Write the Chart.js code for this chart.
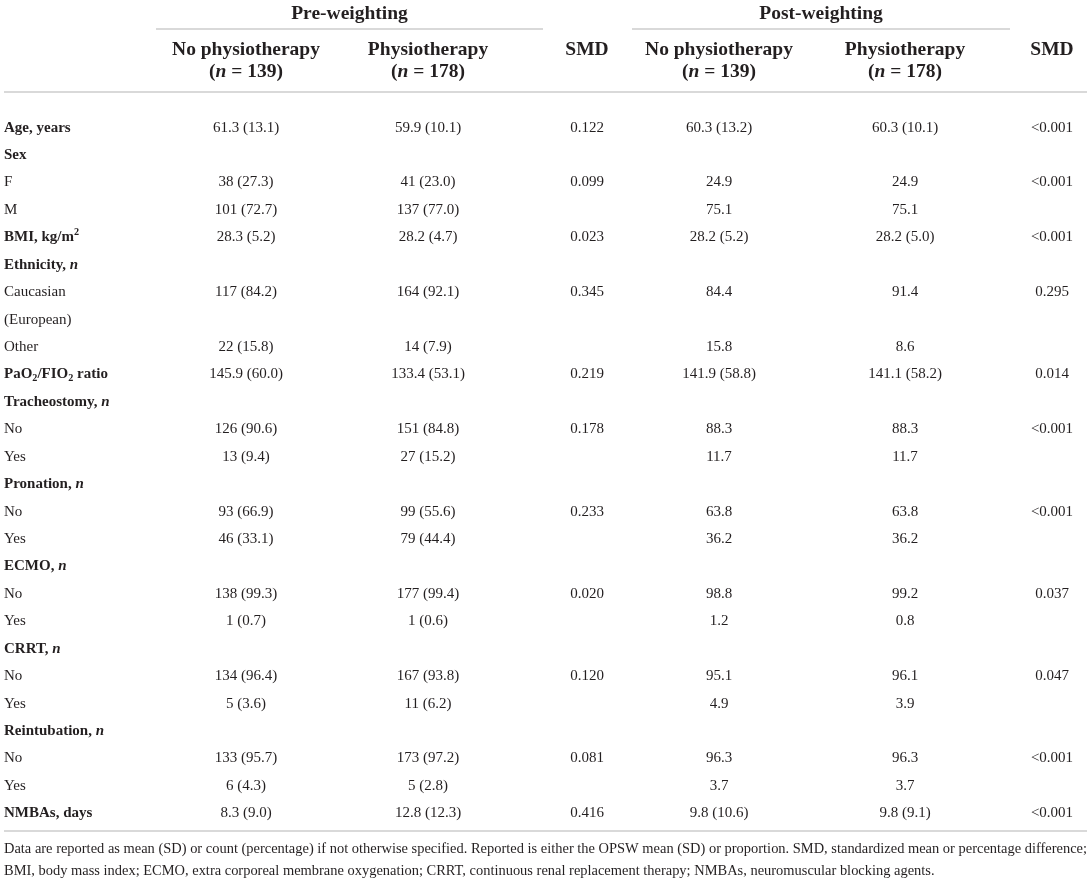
<!DOCTYPE html>
<html>
<head>
<meta charset="utf-8">
<title>Baseline characteristics</title>
<script src="https://cdn.jsdelivr.net/npm/chart.js@4.4.0/dist/chart.umd.min.js"></script>
<style>
  html, body { margin: 0; padding: 0; background: #fff; }
  #wrap { width: 1091px; height: 889px; }
</style>
</head>
<body>
<div id="wrap"><canvas id="tableChart" width="1091" height="889"></canvas></div>
<script>
// table content
const groupTitles = ['Pre-weighting', 'Post-weighting'];
const columnTitles = ['No physiotherapy', 'Physiotherapy', 'SMD', 'No physiotherapy', 'Physiotherapy', 'SMD'];
const columnCounts = ['(*n* = 139)', '(*n* = 178)', '', '(*n* = 139)', '(*n* = 178)', ''];

// *x* = italic, _x = subscript, ^x = superscript
const rowLabels = [
  'Age, years', 'Sex', 'F', 'M', 'BMI, kg/m^2', 'Ethnicity, *n*', 'Caucasian', '(European)', 'Other',
  'PaO_2/FIO_2 ratio', 'Tracheostomy, *n*', 'No', 'Yes', 'Pronation, *n*', 'No', 'Yes',
  'ECMO, *n*', 'No', 'Yes', 'CRRT, *n*', 'No', 'Yes', 'Reintubation, *n*', 'No', 'Yes', 'NMBAs, days'
];
// true = variable row, false = level row under it
const rowIsVariable = [
  true, true, false, false, true, true, false, false, false,
  true, true, false, false, true, false, false,
  true, false, false, true, false, false, true, false, false, true
];

const preNoPhysio = [
  '61.3 (13.1)', '', '38 (27.3)', '101 (72.7)', '28.3 (5.2)', '', '117 (84.2)', '', '22 (15.8)',
  '145.9 (60.0)', '', '126 (90.6)', '13 (9.4)', '', '93 (66.9)', '46 (33.1)',
  '', '138 (99.3)', '1 (0.7)', '', '134 (96.4)', '5 (3.6)', '', '133 (95.7)', '6 (4.3)', '8.3 (9.0)'
];
const prePhysio = [
  '59.9 (10.1)', '', '41 (23.0)', '137 (77.0)', '28.2 (4.7)', '', '164 (92.1)', '', '14 (7.9)',
  '133.4 (53.1)', '', '151 (84.8)', '27 (15.2)', '', '99 (55.6)', '79 (44.4)',
  '', '177 (99.4)', '1 (0.6)', '', '167 (93.8)', '11 (6.2)', '', '173 (97.2)', '5 (2.8)', '12.8 (12.3)'
];
const preSMD = [
  '0.122', '', '0.099', '', '0.023', '', '0.345', '', '',
  '0.219', '', '0.178', '', '', '0.233', '',
  '', '0.020', '', '', '0.120', '', '', '0.081', '', '0.416'
];
const postNoPhysio = [
  '60.3 (13.2)', '', '24.9', '75.1', '28.2 (5.2)', '', '84.4', '', '15.8',
  '141.9 (58.8)', '', '88.3', '11.7', '', '63.8', '36.2',
  '', '98.8', '1.2', '', '95.1', '4.9', '', '96.3', '3.7', '9.8 (10.6)'
];
const postPhysio = [
  '60.3 (10.1)', '', '24.9', '75.1', '28.2 (5.0)', '', '91.4', '', '8.6',
  '141.1 (58.2)', '', '88.3', '11.7', '', '63.8', '36.2',
  '', '99.2', '0.8', '', '96.1', '3.9', '', '96.3', '3.7', '9.8 (9.1)'
];
const postSMD = [
  '<0.001', '', '<0.001', '', '<0.001', '', '0.295', '', '',
  '0.014', '', '<0.001', '', '', '<0.001', '',
  '', '0.037', '', '', '0.047', '', '', '<0.001', '', '<0.001'
];

const footnoteLines = [
  'Data are reported as mean (SD) or count (percentage) if not otherwise specified. Reported is either the OPSW mean (SD) or proportion. SMD, standardized mean or percentage difference;',
  'BMI, body mass index; ECMO, extra corporeal membrane oxygenation; CRRT, continuous renal replacement therapy; NMBAs, neuromuscular blocking agents.'
];

// layout (pixels)
const FONT = '"Liberation Serif", "DejaVu Serif", serif';
const INK = '#231f20';
const RULE = '#cccccc';
const colCenters = [246, 428, 587, 719, 905, 1052];
const groupSpans = [[156, 543], [632, 1010]];
const head = { groupY: 14, groupRuleY: 29, titleY: 50, countY: 72, ruleY: 92 };
const HEAD_SIZE = 19.5;
const BODY_SIZE = 15;

const columns = [preNoPhysio, prePhysio, preSMD, postNoPhysio, postPhysio, postSMD];

function parseRuns(s) {
  const runs = [];
  let cur = '', italic = false;
  for (let k = 0; k < s.length; k++) {
    const ch = s[k];
    if (ch === '*') {
      if (cur) runs.push({ t: cur, i: italic });
      cur = ''; italic = !italic; continue;
    }
    if (ch === '_' || ch === '^') {
      if (cur) runs.push({ t: cur, i: italic });
      cur = '';
      runs.push({ t: s[k + 1], i: italic, shift: ch === '_' ? 'sub' : 'sup' });
      k++; continue;
    }
    cur += ch;
  }
  if (cur) runs.push({ t: cur, i: italic });
  return runs;
}

function runFont(run, size, bold) {
  const sz = run.shift ? size * 0.68 : size;
  return (run.i ? 'italic ' : '') + (bold ? 'bold ' : '') + sz.toFixed(1) + 'px ' + FONT;
}

function drawRich(ctx, text, x, y, size, bold, align) {
  const runs = parseRuns(text);
  let total = 0;
  runs.forEach(r => { ctx.font = runFont(r, size, bold); r.w = ctx.measureText(r.t).width; total += r.w; });
  let cx = align === 'center' ? x - total / 2 : x;
  ctx.textAlign = 'left';
  ctx.textBaseline = 'middle';
  runs.forEach(r => {
    ctx.font = runFont(r, size, bold);
    let dy = 0;
    if (r.shift === 'sub') dy = size * 0.28;
    if (r.shift === 'sup') dy = -size * 0.36;
    ctx.fillText(r.t, cx, y + dy);
    cx += r.w;
  });
}

function hRule(ctx, x1, x2, y) {
  ctx.save();
  ctx.strokeStyle = RULE;
  ctx.lineWidth = 1.6;
  ctx.beginPath();
  ctx.moveTo(x1, y);
  ctx.lineTo(x2, y);
  ctx.stroke();
  ctx.restore();
}

const tablePlugin = {
  id: 'tableText',
  afterDatasetsDraw(chart) {
    const ctx = chart.ctx;
    const yScale = chart.scales.y;
    const area = chart.chartArea;
    ctx.save();
    ctx.fillStyle = INK;

    // header
    groupTitles.forEach((g, k) => {
      const [a, b] = groupSpans[k];
      drawRich(ctx, g, (a + b) / 2, head.groupY, HEAD_SIZE, true, 'center');
      hRule(ctx, a, b, head.groupRuleY);
    });
    columnTitles.forEach((t, k) => {
      drawRich(ctx, t, colCenters[k], head.titleY, HEAD_SIZE, true, 'center');
      if (columnCounts[k]) drawRich(ctx, columnCounts[k], colCenters[k], head.countY, HEAD_SIZE, true, 'center');
    });
    hRule(ctx, 4, 1087, head.ruleY);

    // row labels on the y scale
    rowLabels.forEach((lab, i) => {
      drawRich(ctx, lab, area.left + 4, yScale.getPixelForValue(i), BODY_SIZE, rowIsVariable[i], 'left');
    });

    // cells from the dataset points
    chart.data.datasets.forEach((ds, di) => {
      const meta = chart.getDatasetMeta(di);
      meta.data.forEach((pt, j) => {
        drawRich(ctx, ds.data[j].label, pt.x, pt.y, BODY_SIZE, false, 'center');
      });
    });

    // bottom rule and footnote
    const bottomY = yScale.getPixelForValue(rowLabels.length - 0.5) + 4;
    hRule(ctx, 4, 1087, bottomY);
    ctx.font = '14px ' + FONT;
    const natural = ctx.measureText(footnoteLines[0]).width;
    const sx = 1083 / natural;
    ctx.textAlign = 'left';
    ctx.textBaseline = 'middle';
    footnoteLines.forEach((line, k) => {
      ctx.save();
      ctx.translate(4, bottomY + 18 + k * 22);
      ctx.scale(sx, 1);
      ctx.fillText(line, 0, 0);
      ctx.restore();
    });
    ctx.restore();
  }
};

const datasets = columns.map((col, k) => ({
  label: columnTitles[k],
  data: col.map((v, i) => ({ x: colCenters[k], y: i, label: v })).filter(p => p.label !== ''),
  pointRadius: 0,
  pointHoverRadius: 0,
  showLine: false
}));

new Chart(document.getElementById('tableChart'), {
  type: 'scatter',
  data: { datasets },
  options: {
    responsive: false,
    animation: false,
    devicePixelRatio: 1,
    events: [],
    layout: { padding: { top: 114, bottom: 62, left: 0, right: 0 } },
    plugins: { legend: { display: false }, tooltip: { enabled: false }, title: { display: false } },
    scales: {
      x: { type: 'linear', min: 0, max: 1091, display: false },
      y: { type: 'linear', min: -0.5, max: rowLabels.length - 0.5, reverse: true, display: false }
    }
  },
  plugins: [tablePlugin]
});
</script>
</body>
</html>
